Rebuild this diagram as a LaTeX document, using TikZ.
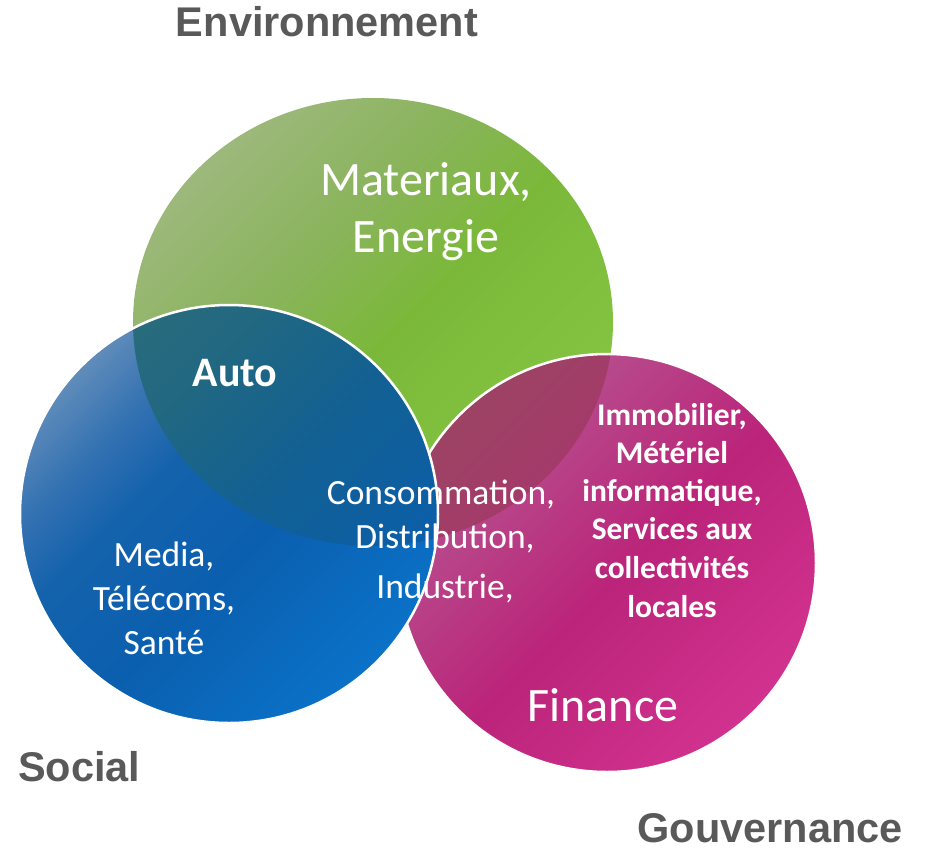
\documentclass[tikz,border=0pt]{standalone}
\usepackage{fontspec}
\setmainfont{Carlito}
\newfontfamily\headfont{Liberation Sans}
\definecolor{headgray}{HTML}{595959}
\definecolor{gA}{HTML}{9DB87C}
\definecolor{gB}{HTML}{8AB45C}
\definecolor{gC}{HTML}{7BB83A}
\definecolor{gD}{HTML}{86C642}
\definecolor{pA}{HTML}{B65896}
\definecolor{pB}{HTML}{B83C84}
\definecolor{pC}{HTML}{BB247A}
\definecolor{pD}{HTML}{D2328F}
\definecolor{gpA}{HTML}{8C5C58}
\definecolor{gpB}{HTML}{944E5C}
\definecolor{gpC}{HTML}{A43A6A}
\definecolor{bA}{HTML}{608CBA}
\definecolor{bB}{HTML}{3472B2}
\definecolor{bC}{HTML}{1462AC}
\definecolor{bD}{HTML}{0B5FAF}
\definecolor{bE}{HTML}{0A72C8}
\definecolor{gbA}{HTML}{2E6E78}
\definecolor{gbB}{HTML}{226880}
\definecolor{gbC}{HTML}{126094}
\definecolor{gbD}{HTML}{0A5EAE}
\pgfdeclarehorizontalshading{greenshade}{100bp}{
  color(0bp)=(gA); color(25bp)=(gA); color(40bp)=(gB);
  color(52bp)=(gC); color(75bp)=(gD); color(100bp)=(gD)}
\pgfdeclarehorizontalshading{pinkshade}{100bp}{
  color(0bp)=(pA); color(25bp)=(pA); color(40bp)=(pB);
  color(52bp)=(pC); color(75bp)=(pD); color(100bp)=(pD)}
\pgfdeclarehorizontalshading{gpshade}{100bp}{
  color(0bp)=(gpA); color(25bp)=(gpA); color(50bp)=(gpB);
  color(75bp)=(gpC); color(100bp)=(gpC)}
\pgfdeclarehorizontalshading{blueshade}{100bp}{
  color(0bp)=(bA); color(25bp)=(bA); color(33bp)=(bB);
  color(41bp)=(bC); color(55bp)=(bD); color(75bp)=(bE); color(100bp)=(bE)}
\pgfdeclarehorizontalshading{gbshade}{100bp}{
  color(0bp)=(gbA); color(25bp)=(gbA); color(40bp)=(gbB);
  color(55bp)=(gbC); color(75bp)=(gbD); color(100bp)=(gbD)}
\begin{document}
\begin{tikzpicture}[x=1pt,y=-1pt,
  outline/.style={draw=white, line width=2.5pt},
  diag/.style={shading=#1, shading angle=-45},
  head/.style={text=headgray, inner sep=0pt, text depth=0pt, font=\headfont\bfseries\fontsize{41.5}{48}\selectfont},
  big/.style={text=white, inner sep=0pt, anchor=base, font=\fontsize{48}{56}\selectfont},
  mid/.style={text=white, inner sep=0pt, anchor=base, font=\fontsize{35.5}{44}\selectfont},
  boldmid/.style={text=white, inner sep=0pt, anchor=base, font=\bfseries\fontsize{42}{48}\selectfont},
  small/.style={text=white, inner sep=0pt, anchor=base, font=\bfseries\fontsize{31.5}{38}\selectfont}]
\useasboundingbox (0,0) rectangle (926,849);
\coordinate (gc) at (373,322);
\coordinate (bc) at (229,514);
\coordinate (pc) at (607,563);
% green (Environnement)
\shade[diag=greenshade] (gc) ellipse [x radius=240, y radius=224];
% pink (Gouvernance)
\shade[diag=pinkshade] (pc) circle [radius=209];
\begin{scope}
  \clip (pc) circle [radius=209];
  \shade[diag=gpshade] (gc) ellipse [x radius=240, y radius=224];
\end{scope}
\path[outline] (pc) circle [radius=209];
% blue (Social)
\shade[diag=blueshade] (bc) circle [radius=209];
\begin{scope}
  \clip (bc) circle [radius=209];
  \shade[diag=gbshade] (gc) ellipse [x radius=240, y radius=224];
\end{scope}
\path[outline] (bc) circle [radius=209];
% headings
\node[head, anchor=base] (env) at (327,36) {Environnement};
\node[head, anchor=base west] (soc) at (18,781) {Social};
\node[head, anchor=base east] (gov) at (903,842) {Gouvernance};
% inner texts
\node[big] (mat1) at (426,195) {Materiaux,};
\node[big] (mat2) at (426,252) {Energie};
\node[boldmid] (auto) at (235,386) {Auto};
\node[mid] (con1) at (441,504) {Consommation,};
\node[mid] (con2) at (445,548) {Distribution,};
\node[mid] (con3) at (445,598) {Industrie,};
\node[mid] (med1) at (164,566) {Media,};
\node[mid] (med2) at (164,610) {Télécoms,};
\node[mid] (med3) at (164,654) {Santé};
\node[small] (imm1) at (672,425) {Immobilier,};
\node[small] (imm2) at (672,463) {Métériel};
\node[small] (imm3) at (672,501) {informatique,};
\node[small] (imm4) at (672,539) {Services aux};
\node[small] (imm5) at (672,578) {collectivités};
\node[small] (imm6) at (672,617) {locales};
\node[big] (fin) at (603,721) {Finance};
\end{tikzpicture}
\end{document}
